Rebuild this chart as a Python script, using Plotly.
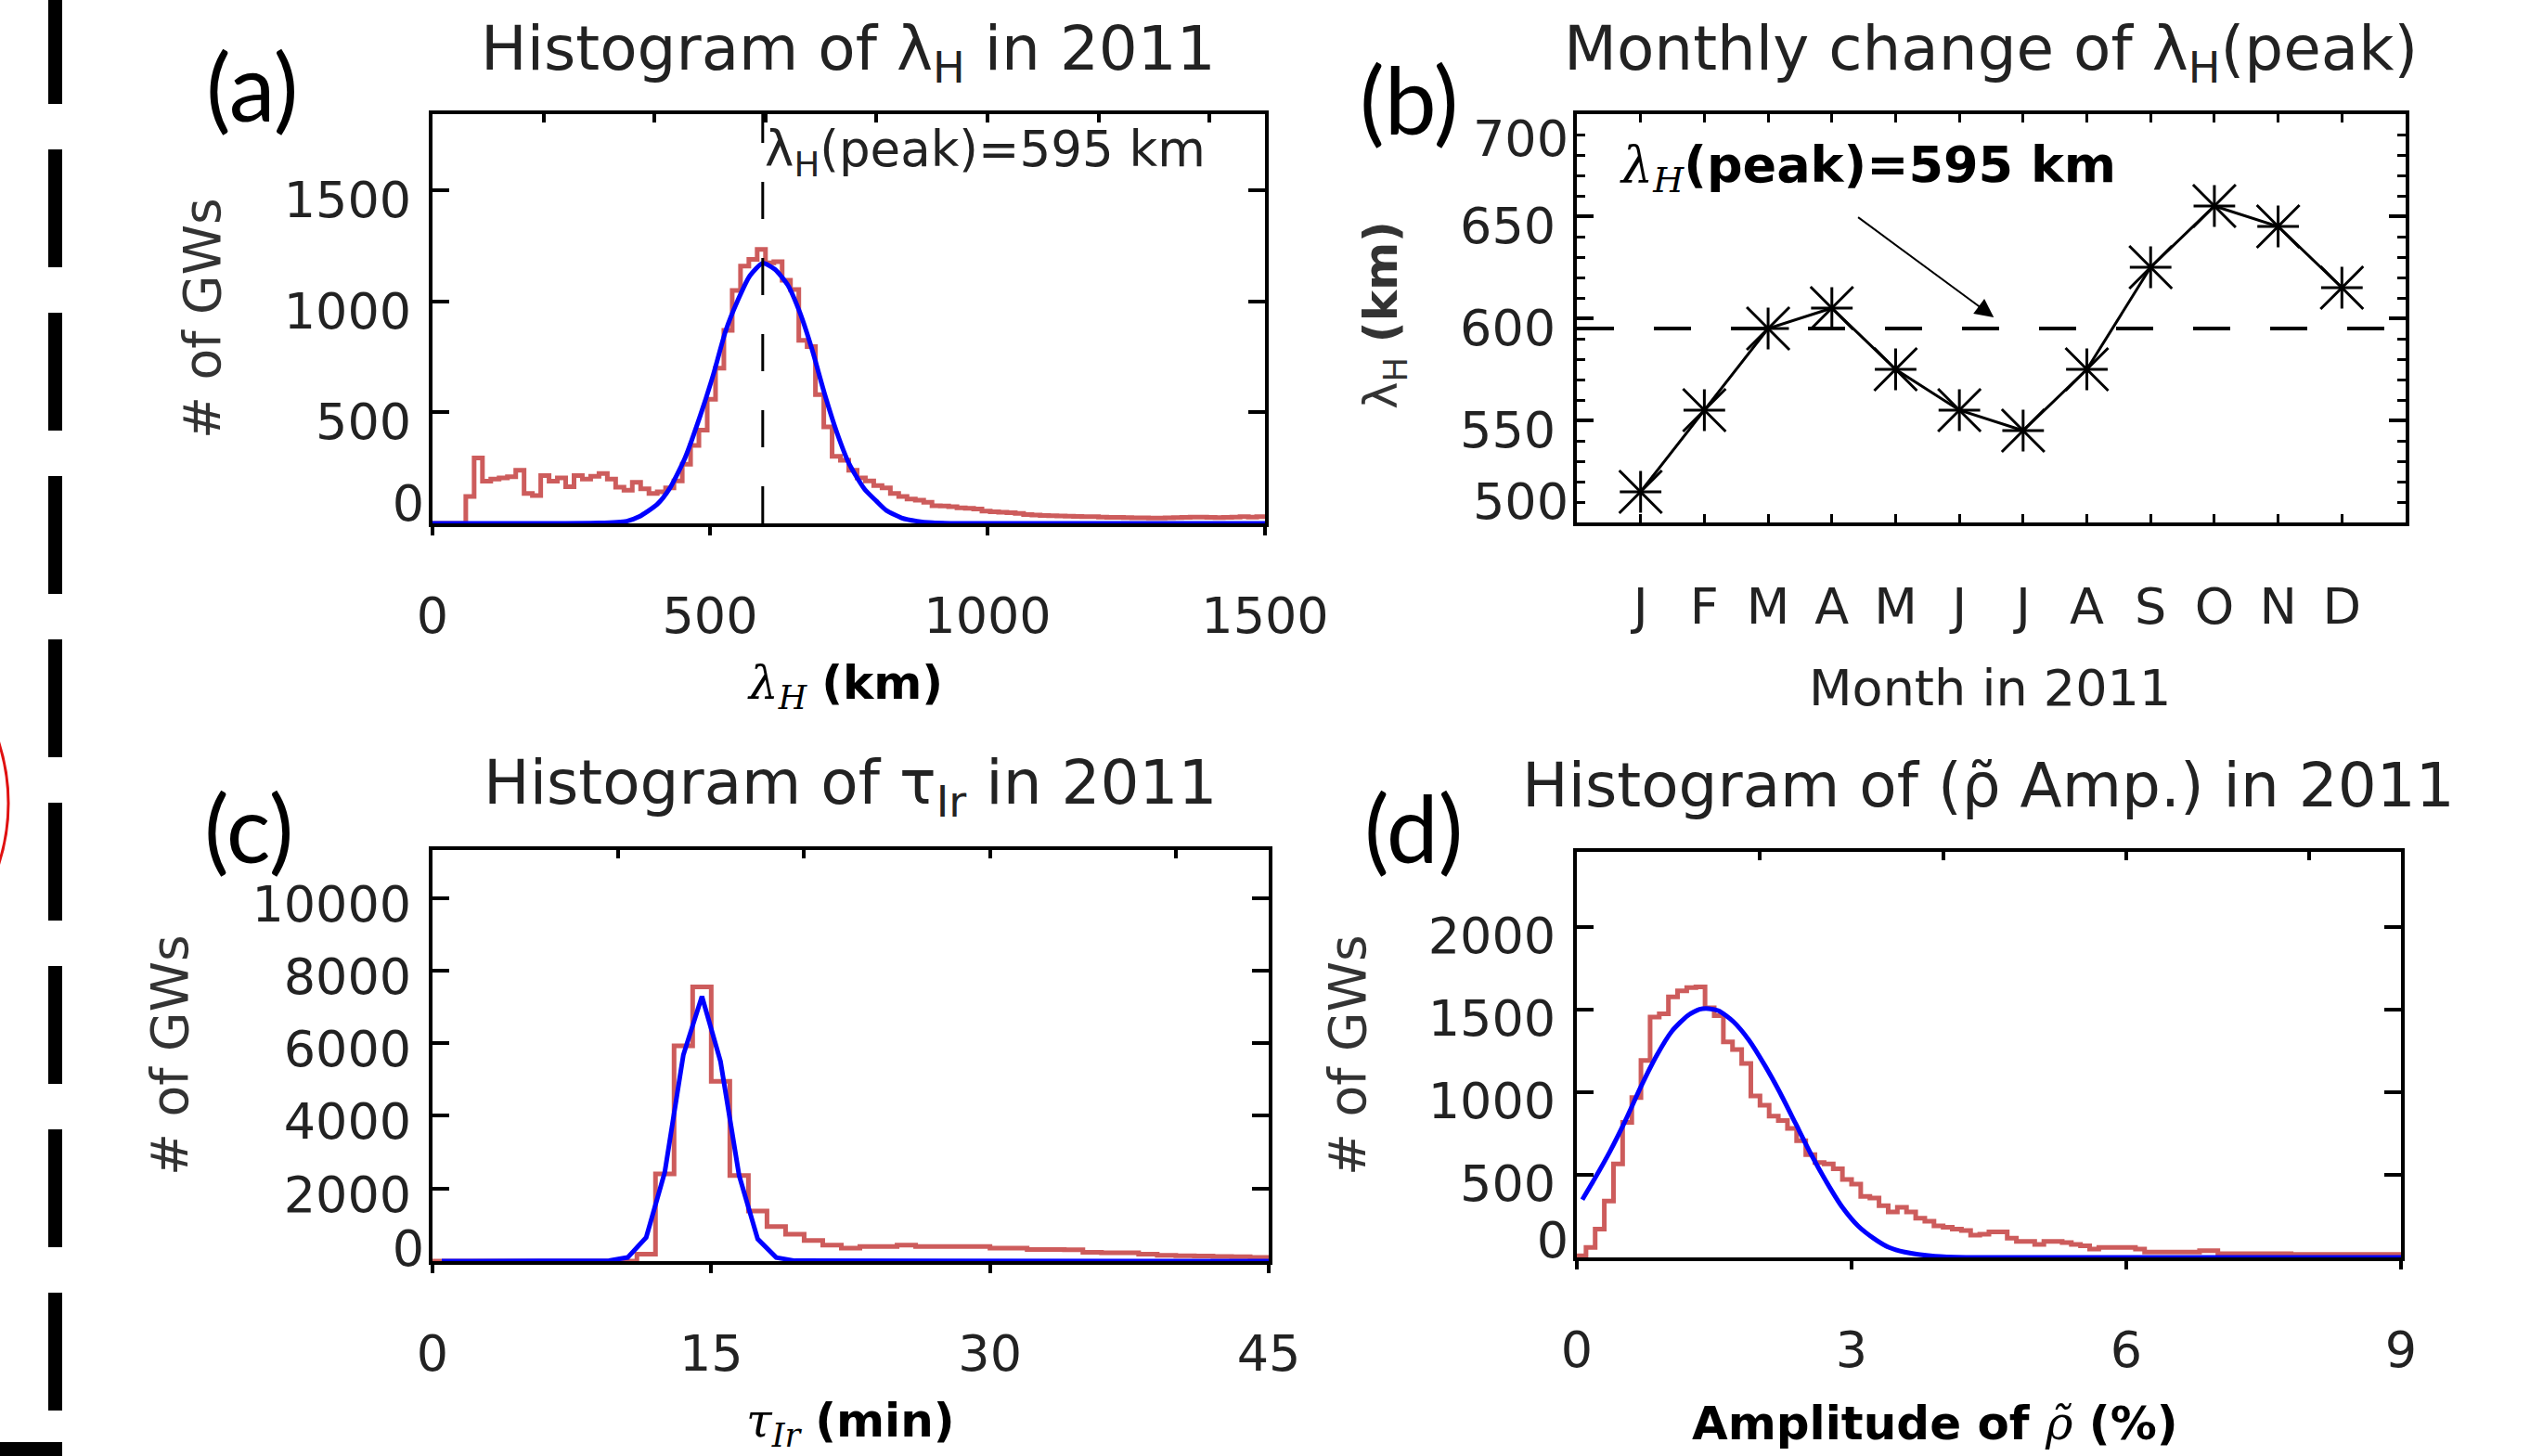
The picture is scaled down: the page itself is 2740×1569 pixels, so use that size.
import plotly.graph_objects as go

W, H = 2740, 1569

# ---------------- data ----------------
# (a) histogram of horizontal wavelength, 15-km bins from 0 km
lam_bin_width = 15
lam_counts = [0, 0, 0, 0, 121, 295, 190, 200, 205, 210,
              240, 135, 125, 215, 190, 205, 165, 215, 200, 212,
              225, 200, 163, 150, 185, 156, 135, 142, 160, 191,
              267, 351, 420, 560, 700, 870, 1050, 1160, 1190, 1235,
              1175, 1180, 1096, 1054, 825, 797, 580, 435, 302, 285,
              240, 205, 191, 170, 160, 135, 121, 110, 105, 95,
              80, 78, 75, 70, 68, 65, 55, 52, 50, 48,
              45, 40, 38, 36, 35, 33, 32, 31, 30, 30,
              28, 27, 27, 26, 25, 25, 24, 24, 25, 26,
              27, 28, 28, 27, 26, 27, 28, 30, 28, 30]
lam_fit_km = [0, 300, 350, 372, 405, 427, 455, 483, 506, 528, 550, 572, 595, 617,
              640, 662, 684, 706, 729, 751, 778, 800, 818, 845, 873, 901, 950, 1500]
lam_fit_counts = [0, 2, 10, 30, 86, 156, 295, 490, 671, 866, 1005, 1117, 1173, 1145,
                  1075, 950, 783, 588, 407, 267, 156, 100, 58, 25, 10, 3, 0, 0]
lam_peak_km = 595
lam_xticks = [0, 500, 1000, 1500]
lam_xticks_top = [200, 400, 600, 800, 1000, 1200, 1400]
lam_yticks = [500, 1000, 1500]

# (b) monthly peak wavelength
months = ["J", "F", "M", "A", "M", "J", "J", "A", "S", "O", "N", "D"]
month_index = [1, 2, 3, 4, 5, 6, 7, 8, 9, 10, 11, 12]
monthly_peak_km = [515, 555, 595, 605, 575, 555, 545, 575, 625, 655, 645, 615]
peak_yticks = [550, 600, 650]

# (c) histogram of period, 1-min bins from 0 min
tau_bin_width = 1
tau_counts = [0, 0, 0, 0, 0, 0, 0, 0, 0, 0,
              0, 190, 2400, 5930, 7550, 4950, 2360, 1380, 950, 740,
              570, 440, 360, 400, 400, 440, 400, 400, 400, 400,
              360, 360, 320, 320, 310, 240, 230, 230, 190, 160,
              150, 140, 130, 120, 100]
tau_fit_min = [0.5, 9.5, 10.5, 11.5, 12.5, 13.5, 14.5, 15.5, 16.5, 17.5, 18.5, 19.5, 45]
tau_fit_counts = [0, 15, 100, 655, 2450, 5680, 7290, 5500, 2360, 610, 100, 10, 0]
tau_xticks = [0, 15, 30, 45]
tau_xticks_top = [10, 20, 30, 40]
tau_yticks = [2000, 4000, 6000, 8000, 10000]

# (d) histogram of relative density amplitude, 0.1 % bins from 0 %
amp_bin_width = 0.1
amp_counts = [10, 60, 172, 341, 566, 818, 968, 1193, 1455, 1474,
              1577, 1614, 1633, 1637, 1511, 1464, 1305, 1258, 1174, 978,
              921, 856, 828, 781, 706, 622, 575, 566, 537, 472,
              444, 369, 360, 313, 275, 303, 275, 238, 219, 191,
              182, 172, 163, 135, 140, 154, 154, 116, 97, 97,
              79, 97, 97, 90, 79, 70, 51, 60, 60, 60,
              60, 51, 32, 32, 32, 32, 32, 32, 41, 41,
              22, 22, 22, 22, 22, 22, 22, 22, 18, 18,
              18, 18, 18, 18, 18, 18, 18, 18, 18, 18]
amp_fit_pct = [0.06, 0.19, 0.36, 0.53, 0.70, 0.87, 1.04, 1.21, 1.34, 1.44, 1.55, 1.71,
               1.88, 2.05, 2.22, 2.39, 2.56, 2.73, 2.90, 3.07, 3.24, 3.41, 3.58, 3.91,
               4.25, 9.0]
amp_fit_counts = [350, 472, 640, 828, 1034, 1221, 1371, 1464, 1502, 1506, 1493, 1427,
                  1315, 1165, 996, 809, 622, 453, 303, 191, 116, 60, 32, 7, 0, 0]
amp_xticks = [0, 3, 6, 9]
amp_xticks_top = [2, 4, 6, 8]
amp_yticks = [500, 1000, 1500, 2000]

# ---------------- styling ----------------
FONT = "DejaVu Sans"
TXT = "#222222"
RED = "#CD5C5C"
BLUE = "#0000FF"
TICKFONT = dict(family=FONT, size=54, color=TXT)


def dom_x(x0, x1):
    return [x0 / W, x1 / W]


def dom_y(y0, y1):
    return [1 - y1 / H, 1 - y0 / H]


def steps(counts, bw):
    edges = [i * bw for i in range(len(counts) + 1)]
    return edges, list(counts) + [counts[-1]]


fig = go.Figure()

# (a)
ex, ey = steps(lam_counts, lam_bin_width)
fig.add_trace(go.Scatter(x=ex, y=ey, mode="lines", line=dict(color=RED, width=5, shape="hv"),
                         xaxis="x", yaxis="y", hoverinfo="skip"))
fig.add_trace(go.Scatter(x=lam_fit_km, y=lam_fit_counts, mode="lines",
                         line=dict(color=BLUE, width=5, shape="spline", smoothing=0.6),
                         xaxis="x", yaxis="y", hoverinfo="skip"))
# (b)
fig.add_trace(go.Scatter(x=month_index, y=monthly_peak_km, mode="lines",
                         line=dict(color="black", width=3), xaxis="x2", yaxis="y2", hoverinfo="skip"))
fig.add_trace(go.Scatter(x=month_index, y=monthly_peak_km, mode="markers",
                         marker=dict(symbol="cross-thin-open", size=32, color="black",
                                     line=dict(color="black", width=3)),
                         xaxis="x2", yaxis="y2", hoverinfo="skip"))
fig.add_trace(go.Scatter(x=month_index, y=monthly_peak_km, mode="markers",
                         marker=dict(symbol="x-thin-open", size=46, color="black",
                                     line=dict(color="black", width=3)),
                         xaxis="x2", yaxis="y2", hoverinfo="skip"))
# (c)
ex, ey = steps(tau_counts, tau_bin_width)
fig.add_trace(go.Scatter(x=ex, y=ey, mode="lines", line=dict(color=RED, width=5, shape="hv"),
                         xaxis="x3", yaxis="y3", hoverinfo="skip"))
fig.add_trace(go.Scatter(x=tau_fit_min, y=tau_fit_counts, mode="lines",
                         line=dict(color=BLUE, width=5), xaxis="x3", yaxis="y3", hoverinfo="skip"))
# (d)
ex, ey = steps(amp_counts, amp_bin_width)
fig.add_trace(go.Scatter(x=ex, y=ey, mode="lines", line=dict(color=RED, width=5, shape="hv"),
                         xaxis="x4", yaxis="y4", hoverinfo="skip"))
fig.add_trace(go.Scatter(x=amp_fit_pct, y=amp_fit_counts, mode="lines",
                         line=dict(color=BLUE, width=5, shape="spline", smoothing=0.6),
                         xaxis="x4", yaxis="y4", hoverinfo="skip"))


# invisible anchors so that the auxiliary (tick / label) axes get drawn
def ghost(xa, ya, xv, yv):
    fig.add_trace(go.Scatter(x=[xv], y=[yv], mode="markers", marker=dict(opacity=0, size=1),
                             xaxis=xa, yaxis=ya, hoverinfo="skip", showlegend=False))


lam_yr = [0, 1845]
peak_yr = [500, 700]
tau_yr = [0, 11320]
amp_yr = [0, 2455]

ghost("x5", "y", lam_xticks_top[0], lam_yr[0])
ghost("x", "y5", lam_xticks[0], lam_yr[0])
ghost("x2", "y6", month_index[0], peak_yr[0])
ghost("x2", "y7", month_index[0], peak_yr[0])
ghost("x6", "y3", tau_xticks_top[0], tau_yr[0])
ghost("x3", "y8", tau_xticks[0], tau_yr[0])
ghost("x7", "y4", amp_xticks_top[0], amp_yr[0])
ghost("x4", "y9", amp_xticks[0], amp_yr[0])

base = dict(showgrid=False, zeroline=False, showline=True, linecolor="black", linewidth=4,
            tickcolor="black", tickfont=TICKFONT, fixedrange=True, automargin=False)

XSTAND = 40
YSTAND = 8


def xmain(dom, rng, tv, anchor):
    return dict(base, domain=dom, range=rng, tickvals=tv, ticktext=[str(v) for v in tv],
                ticks="outside", ticklen=9, tickwidth=4, mirror=True, anchor=anchor,
                ticklabelstandoff=XSTAND)


def xtop(over, rng, tv, anchor):
    return dict(overlaying=over, side="top", anchor=anchor, range=rng, tickvals=tv,
                ticks="inside", ticklen=9, tickwidth=4, tickcolor="black",
                showticklabels=False, showline=False, showgrid=False, zeroline=False,
                fixedrange=True, automargin=False)


def ymain(dom, rng, tv, anchor, shift):
    return dict(base, domain=dom, range=rng, tickvals=tv, ticktext=[str(v) for v in tv],
                ticks="inside", ticklen=18, tickwidth=4, mirror="ticks", anchor=anchor,
                ticklabelshift=shift, ticklabelstandoff=YSTAND)


def ylabel(over, rng, val, anchor, shift):
    return dict(overlaying=over, anchor=anchor, side="left", range=rng, tickvals=[val],
                ticktext=[str(val)], ticks="", showline=False, showgrid=False,
                zeroline=False, tickfont=TICKFONT, ticklabelshift=shift,
                ticklabelstandoff=YSTAND, fixedrange=True, automargin=False)


yb = ymain(dom_y(123, 563), peak_yr, peak_yticks, "x2", 10)
yb["minor"] = dict(dtick=10, ticks="inside", ticklen=9, tickwidth=3, tickcolor="black")

xb = dict(base, domain=dom_x(1699, 2592), range=[0, 13], tickvals=month_index, ticktext=months,
          ticks="inside", ticklen=9, tickwidth=3, mirror="ticks", anchor="y2",
          ticklabelstandoff=XSTAND)

fig.update_layout(
    template="none",
    font=dict(family=FONT, color=TXT),
    width=W, height=H, margin=dict(l=0, r=0, t=0, b=0, pad=0), autosize=False,
    paper_bgcolor="white", plot_bgcolor="white", showlegend=False, hovermode=False,
    xaxis=xmain(dom_x(466, 1363), [0, 1500], lam_xticks, "y"),
    yaxis=ymain(dom_y(123, 564), lam_yr, lam_yticks, "x", 10),
    xaxis2=xb,
    yaxis2=yb,
    xaxis3=xmain(dom_x(466, 1367), [0, 45], tau_xticks, "y3"),
    yaxis3=ymain(dom_y(916, 1359), tau_yr, tau_yticks, "x3", 6),
    xaxis4=xmain(dom_x(1699, 2587), [0, 9], amp_xticks, "y4"),
    yaxis4=ymain(dom_y(918, 1355), amp_yr, amp_yticks, "x4", 9),
    xaxis5=xtop("x", [0, 1500], lam_xticks_top, "y"),
    xaxis6=xtop("x3", [0, 45], tau_xticks_top, "y3"),
    xaxis7=xtop("x4", [0, 9], amp_xticks_top, "y4"),
    yaxis5=ylabel("y", lam_yr, 0, "x", -22),
    yaxis6=ylabel("y2", peak_yr, 700, "x2", 26),
    yaxis7=ylabel("y2", peak_yr, 500, "x2", -23),
    yaxis8=ylabel("y3", tau_yr, 0, "x3", -14),
    yaxis9=ylabel("y4", amp_yr, 0, "x4", -19),
)

# ---------------- shapes ----------------
shapes = [
    # peak marker in (a)
    dict(type="line", xref="x", yref="y domain", x0=lam_peak_km, x1=lam_peak_km, y0=0, y1=1,
         line=dict(color="black", width=3, dash="40px,42px")),
    # peak level in (b)
    dict(type="line", xref="x2 domain", yref="y2", x0=0, x1=1, y0=lam_peak_km, y1=lam_peak_km,
         line=dict(color="black", width=4, dash="40px,43px")),
    # decorative page elements at the left edge
    dict(type="line", xref="paper", yref="paper", x0=59.5 / W, x1=59.5 / W, y0=1 + 15 / H, y1=0,
         line=dict(color="black", width=15, dash="127px,49px")),
    dict(type="rect", xref="paper", yref="paper", x0=0, x1=67 / W, y0=0, y1=15 / H,
         line=dict(width=0), fillcolor="black"),
    dict(type="circle", xref="paper", yref="paper", x0=-420 / W, x1=9 / W,
         y0=1 - 1080 / H, y1=1 - 651 / H, line=dict(color="#e01010", width=3)),
]
fig.update_layout(shapes=shapes)


# ---------------- text ----------------
def ann(text, px, py, size, color=TXT, family=FONT, angle=0, xanchor="center", yanchor="middle"):
    return dict(text=text, x=px / W, y=1 - py / H, xref="paper", yref="paper",
                showarrow=False, font=dict(family=family, size=size, color=color),
                textangle=angle, xanchor=xanchor, yanchor=yanchor)


SERIF = "<span style=\"font-family:'DejaVu Serif'\">"
annotations = [
    # panel letters
    ann("(a)", 271, 92, 100, "black", "Lato"),
    ann("(b)", 1518, 106, 100, "black", "Lato"),
    ann("(c)", 268, 891, 100, "black", "Lato"),
    ann("(d)", 1523, 891, 100, "black", "Lato"),
    # titles
    ann("Histogram of λ<sub>H</sub> in 2011", 914, 57, 66),
    ann("Monthly change of λ<sub>H</sub>(peak)", 2145, 57, 66),
    ann("Histogram of τ<sub>Ir</sub> in 2011", 916, 848, 66),
    ann("Histogram of (ρ\u0303 Amp.) in 2011", 2142, 846, 66),
    # x titles
    ann(SERIF + "<i>λ<sub>H</sub></i></span> <b>(km)</b>", 910, 739, 50, "black"),
    ann("Month in 2011", 2144, 741, 54),
    ann(SERIF + "<i>τ<sub>Ir</sub></i></span> <b>(min)</b>", 917, 1534, 50, "black"),
    ann("<b>Amplitude of </b>" + SERIF + "<i>ρ\u0303</i></span><b> (%)</b>", 2085, 1534, 50, "black"),
    # y titles
    ann("# of GWs", 218, 343, 55, "#333333", angle=-90),
    ann("λ<sub>H</sub> <b>(km)</b>", 1492, 340, 50, "#333333", angle=-90),
    ann("# of GWs", 183, 1137, 55, "#333333", angle=-90),
    ann("# of GWs", 1452, 1137, 55, "#333333", angle=-90),
    # in-plot labels
    dict(text="λ<sub>H</sub>(peak)=595 km", x=lam_peak_km, y=1 - 165 / H, xref="x", yref="paper",
         showarrow=False, xanchor="left", yanchor="middle",
         font=dict(family=FONT, size=53, color=TXT)),
    dict(text=SERIF + "<i>λ<sub>H</sub></i></span><b>(peak)=595 km</b>", x=1743 / W, y=1 - 181 / H,
         xref="paper", yref="paper", showarrow=False, xanchor="left", yanchor="middle",
         font=dict(family=FONT, size=54, color="black")),
    # arrow in (b)
    dict(text="", x=6.54, y=600.5, xref="x2", yref="y2", ax=4.39, ay=650, axref="x2",
         ayref="y2", showarrow=True, arrowhead=2, arrowsize=2, arrowwidth=2,
         arrowcolor="black"),
]
fig.update_layout(annotations=annotations)

fig.write_html("out.html", include_plotlyjs=True, config={"displayModeBar": False},
               post_script="document.body.style.margin='0';")
